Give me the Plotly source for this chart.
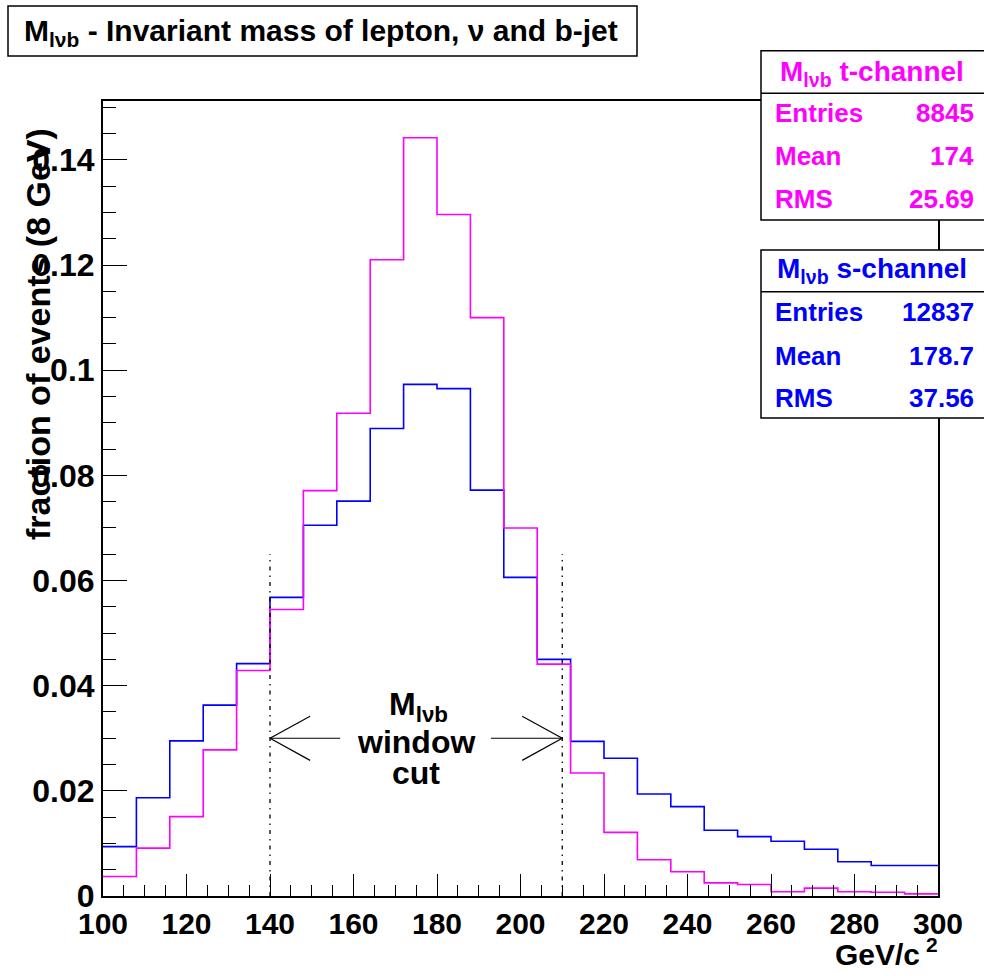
import plotly.graph_objects as go

# ---------------- data ----------------
bin_edges = [100 + 8 * i for i in range(26)]  # 8 GeV bins, 100..300
t_channel = [0.0037, 0.0091, 0.0151, 0.0278, 0.0429, 0.0545, 0.0771, 0.0918,
             0.1210, 0.1442, 0.1296, 0.1100, 0.0700, 0.0441, 0.0234, 0.0121,
             0.0069, 0.0046, 0.0025, 0.0022, 0.0008, 0.0015, 0.0008, 0.0007,
             0.0004]
s_channel = [0.0094, 0.0187, 0.0295, 0.0363, 0.0442, 0.0568, 0.0705, 0.0751,
             0.0889, 0.0973, 0.0965, 0.0772, 0.0606, 0.0450, 0.0294, 0.0262,
             0.0194, 0.0170, 0.0125, 0.0113, 0.0104, 0.0089, 0.0065, 0.0058,
             0.0058]
x_tick_vals = [100, 120, 140, 160, 180, 200, 220, 240, 260, 280, 300]
x_tick_text = ["100", "120", "140", "160", "180", "200", "220", "240", "260", "280", "300"]
y_tick_vals = [0, 0.02, 0.04, 0.06, 0.08, 0.10, 0.12, 0.14]
y_tick_text = ["0", "0.02", "0.04", "0.06", "0.08", "0.1", "0.12", "0.14"]
t_stats = [("Entries", "8845"), ("Mean", "174"), ("RMS", "25.69")]
s_stats = [("Entries", "12837"), ("Mean", "178.7"), ("RMS", "37.56")]
cut_low, cut_high = 140, 210
cut_line_top = 0.065
arrow_y = 0.03

MAGENTA = "#ff00ff"
BLUE = "#0000ff"
FONT = "Liberation Sans, Arial, Helvetica, sans-serif"

# ---------------- geometry helpers (pixel -> paper) ----------------
W, H = 984, 976
L, R, T, B = 103, 938, 101, 896


def px(x):
    return (x - L) / (R - L)


def py(y):
    return (B - y) / (B - T)


fig = go.Figure()

fig.add_trace(go.Scatter(x=bin_edges, y=s_channel + [s_channel[-1]], mode="lines",
                         line=dict(color=BLUE, width=1.6, shape="hv"),
                         showlegend=False, hoverinfo="skip"))
fig.add_trace(go.Scatter(x=bin_edges, y=t_channel + [t_channel[-1]], mode="lines",
                         line=dict(color=MAGENTA, width=1.6, shape="hv"),
                         showlegend=False, hoverinfo="skip"))

shapes = []
# cut lines
for xc in (cut_low, cut_high):
    shapes.append(dict(type="line", xref="x", yref="y", x0=xc, x1=xc, y0=0, y1=cut_line_top,
                       line=dict(color="black", width=1.3, dash="4px,5px,1.5px,5px")))
# arrows
ah_len, ah_w = 9.6, 0.0042
shapes += [
    dict(type="line", xref="x", yref="y", x0=cut_low, x1=156.8, y0=arrow_y, y1=arrow_y,
         line=dict(color="black", width=1.2)),
    dict(type="line", xref="x", yref="y", x0=cut_low, x1=cut_low + ah_len, y0=arrow_y, y1=arrow_y + ah_w,
         line=dict(color="black", width=1.2)),
    dict(type="line", xref="x", yref="y", x0=cut_low, x1=cut_low + ah_len, y0=arrow_y, y1=arrow_y - ah_w,
         line=dict(color="black", width=1.2)),
    dict(type="line", xref="x", yref="y", x0=192.9, x1=cut_high, y0=arrow_y, y1=arrow_y,
         line=dict(color="black", width=1.2)),
    dict(type="line", xref="x", yref="y", x0=cut_high, x1=cut_high - ah_len, y0=arrow_y, y1=arrow_y + ah_w,
         line=dict(color="black", width=1.2)),
    dict(type="line", xref="x", yref="y", x0=cut_high, x1=cut_high - ah_len, y0=arrow_y, y1=arrow_y - ah_w,
         line=dict(color="black", width=1.2)),
]
# title box
shapes.append(dict(type="rect", xref="paper", yref="paper", x0=px(8), x1=px(637), y0=py(56), y1=py(6),
                   line=dict(color="black", width=1.5), fillcolor="white", layer="above"))
# stats boxes
for top, sep, bot in ((50.7, 93.3, 220), (250, 291.7, 418)):
    shapes.append(dict(type="rect", xref="paper", yref="paper", x0=px(761), x1=px(990),
                       y0=py(bot), y1=py(top), line=dict(color="black", width=1.5),
                       fillcolor="white", layer="above"))
    shapes.append(dict(type="line", xref="paper", yref="paper", x0=px(761), x1=px(990),
                       y0=py(sep), y1=py(sep), line=dict(color="black", width=1.5), layer="above"))

annotations = []


def ann(text, x, y, size, color="black", xanchor="center", yanchor="middle", angle=0):
    annotations.append(dict(text=text, x=px(x), y=py(y), xref="paper", yref="paper",
                            showarrow=False, xanchor=xanchor, yanchor=yanchor, textangle=angle,
                            font=dict(family=FONT, size=size, color=color, weight="bold")))


ann("M<sub>lνb</sub> - Invariant mass of lepton, ν and b-jet", 22, 32, 30, xanchor="left")
ann("M<sub>lνb</sub> t-channel", 872, 73, 28, color=MAGENTA)
for (lab, val), yy in zip(t_stats, (113, 156, 199)):
    ann(lab, 773, yy, 26, color=MAGENTA, xanchor="left")
    ann(val, 976, yy, 26, color=MAGENTA, xanchor="right")
ann("M<sub>lνb</sub> s-channel", 872, 270, 28, color=BLUE)
for (lab, val), yy in zip(s_stats, (312, 356, 398)):
    ann(lab, 773, yy, 26, color=BLUE, xanchor="left")
    ann(val, 976, yy, 26, color=BLUE, xanchor="right")
ann("fraction of events (8 GeV)", 38, 334, 34, angle=-90)
ann("GeV/c<sup> 2</sup>", 940, 952, 30, xanchor="right")
ann("M<sub>lνb</sub>", 418, 706, 32)
ann("window", 416, 742, 32)
ann("cut", 416, 773, 32)

fig.update_layout(
    width=W, height=H,
    margin=dict(l=L, r=W - R, t=T, b=H - B, pad=0),
    paper_bgcolor="white", plot_bgcolor="white",
    shapes=shapes, annotations=annotations,
    showlegend=False,
    xaxis=dict(range=[100, 300], tickvals=x_tick_vals, ticktext=x_tick_text,
               ticks="inside", ticklen=22, tickwidth=1.2, tickcolor="black",
               minor=dict(dtick=5, ticks="inside", ticklen=11, tickwidth=1.2, tickcolor="black"),
               showline=True, linecolor="black", linewidth=2, mirror=True,
               showgrid=False, zeroline=False,
               tickfont=dict(family=FONT, size=30, color="black", weight="bold")),
    yaxis=dict(range=[0, 0.1512], tickvals=y_tick_vals, ticktext=y_tick_text,
               ticks="inside", ticklen=24, tickwidth=1.2, tickcolor="black",
               minor=dict(dtick=0.005, ticks="inside", ticklen=13, tickwidth=1.2, tickcolor="black"),
               showline=True, linecolor="black", linewidth=2, mirror=True,
               showgrid=False, zeroline=False,
               tickfont=dict(family=FONT, size=32, color="black", weight="bold")),
)

fig.write_html("out.html", config={"displayModeBar": False},
               post_script="document.body.style.margin='0px';document.body.style.overflow='hidden';")
